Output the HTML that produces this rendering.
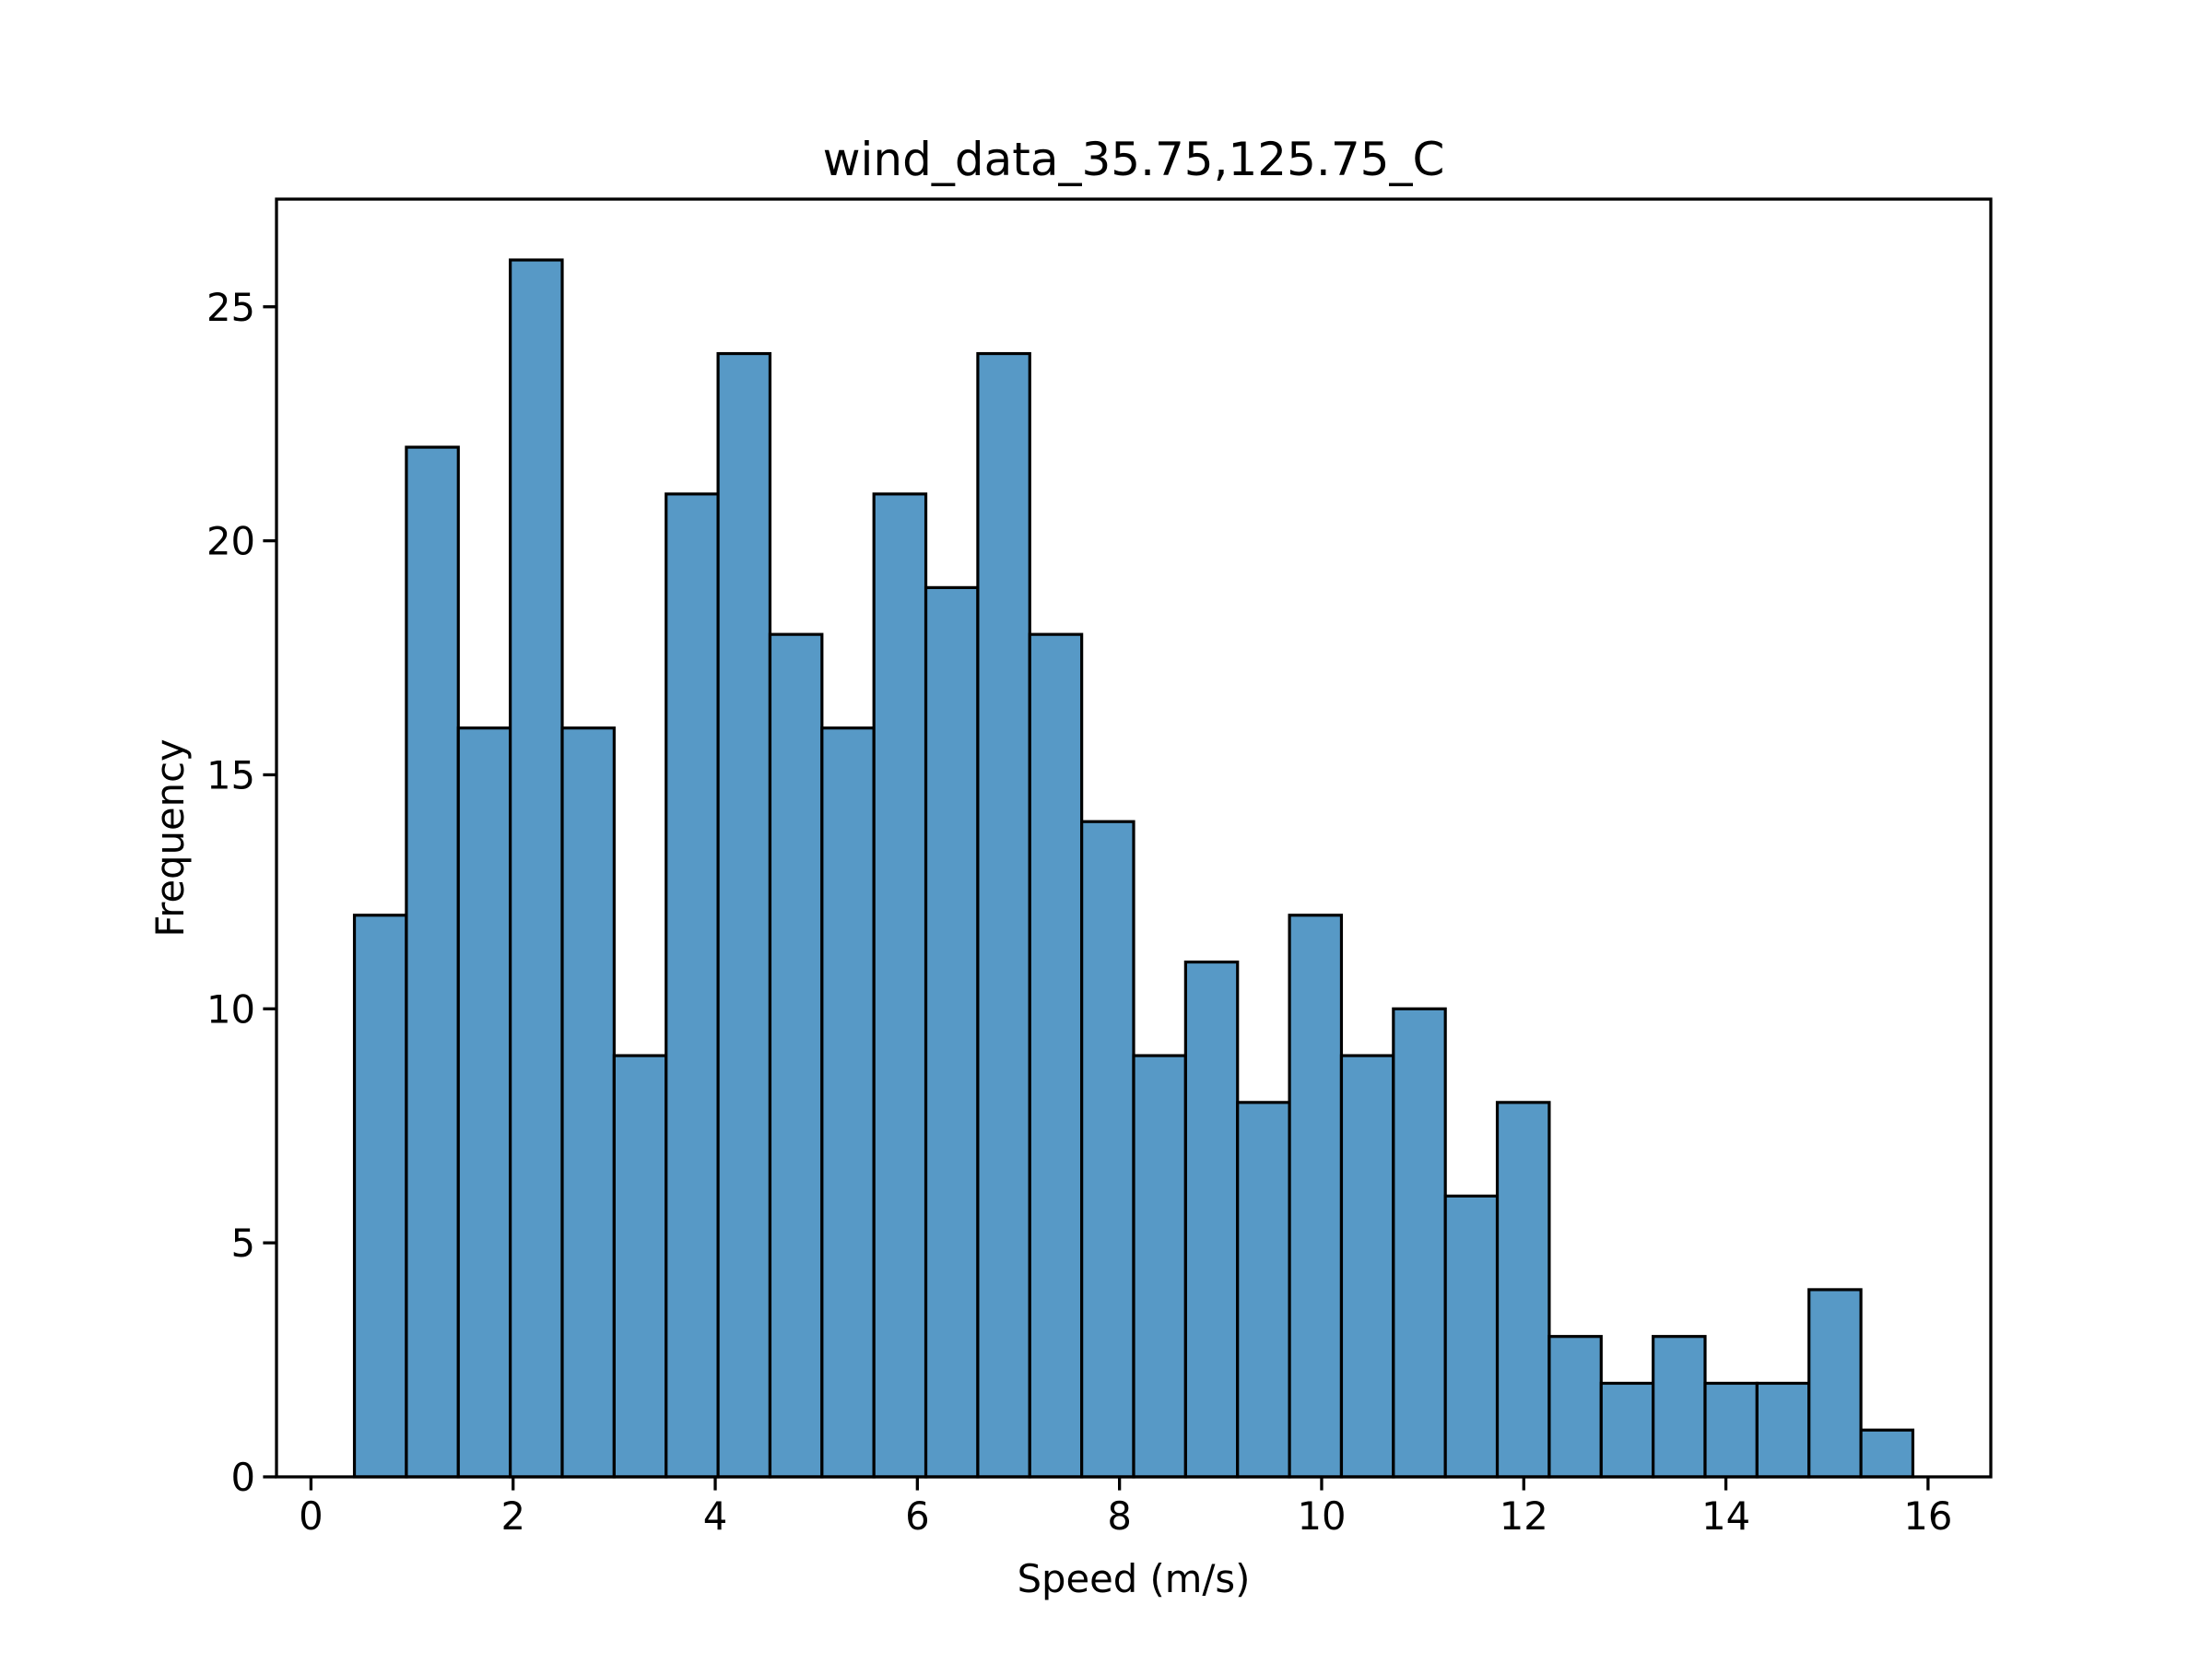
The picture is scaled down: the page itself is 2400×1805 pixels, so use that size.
<!DOCTYPE html>
<html><head><meta charset="utf-8"><style>
html,body{margin:0;padding:0;background:#fff}
svg text{font-family:"DejaVu Sans","Liberation Sans",sans-serif;fill:#000}
</style></head><body>
<svg id="chart" width="2400" height="1800" viewBox="0 0 2400 1800" xmlns="http://www.w3.org/2000/svg">
<rect width="2400" height="1800" fill="#fff"/>
<g id="bars"></g>
<g id="axes"></g>
</svg>
<script>
const counts = [12,22,16,26,16,9,21,24,18,16,21,19,24,18,14,9,11,8,12,9,10,6,8,3,2,3,2,2,4,1];
const binStart = 0.43;
const binEnd = 15.85;
const xTicks = [0,2,4,6,8,10,12,14,16];
const yTicks = [0,5,10,15,20,25];
const titleText = "wind_data_35.75,125.75_C";
const xLabelText = "Speed (m/s)";
const yLabelText = "Frequency";

const L=300,R=2160,T=216,B=1602;
const span=binEnd-binStart;
const xmin=binStart-0.05*span, xmax=binEnd+0.05*span;
const ymax=Math.max(...counts)*1.05;
const sx=v=>L+(v-xmin)/(xmax-xmin)*(R-L);
const sy=v=>B-v/ymax*(B-T);
const NS="http://www.w3.org/2000/svg";
function mk(tag,attrs,parent){const e=document.createElementNS(NS,tag);for(const k in attrs)e.setAttribute(k,attrs[k]);parent.appendChild(e);return e;}
const bars=document.getElementById('bars'), axes=document.getElementById('axes');
const w=span/counts.length;
counts.forEach((c,i)=>{
  const x0=sx(binStart+i*w), x1=sx(binStart+(i+1)*w);
  const r=mk('rect',{x:x0,y:sy(c),width:x1-x0,height:sy(0)-sy(c),fill:'#5799c6',stroke:'#000','stroke-width':3.2},bars);
  
  
});
const frame=mk('rect',{x:L,y:T,width:R-L,height:B-T,fill:'none',stroke:'#000','stroke-width':3.3},axes);


xTicks.forEach(t=>{
  const x=sx(t);
  mk('line',{x1:x,x2:x,y1:B,y2:B+14.6,stroke:'#000','stroke-width':3.3},axes);
  const tx=mk('text',{x:x,y:B+57,'font-size':41.7,'text-anchor':'middle'},axes);
  tx.textContent=t;
  
  
});
yTicks.forEach(t=>{
  const y=sy(t);
  mk('line',{x1:L-14.6,x2:L,y1:y,y2:y,stroke:'#000','stroke-width':3.3},axes);
  const tx=mk('text',{x:L-23,y:y+15,'font-size':41.7,'text-anchor':'end'},axes);
  tx.textContent=t;
  
  
});
const ti=mk('text',{x:(L+R)/2,y:190,'font-size':50,'text-anchor':'middle'},axes);
ti.textContent=titleText;


const xl=mk('text',{x:(L+R)/2,y:1727,'font-size':41.7,'text-anchor':'middle'},axes);
xl.textContent=xLabelText;


const yl=mk('text',{x:0,y:0,'font-size':41.7,'text-anchor':'middle',transform:`translate(199,${(T+B)/2}) rotate(-90)`},axes);
yl.textContent=yLabelText;


</script>
</body></html>
